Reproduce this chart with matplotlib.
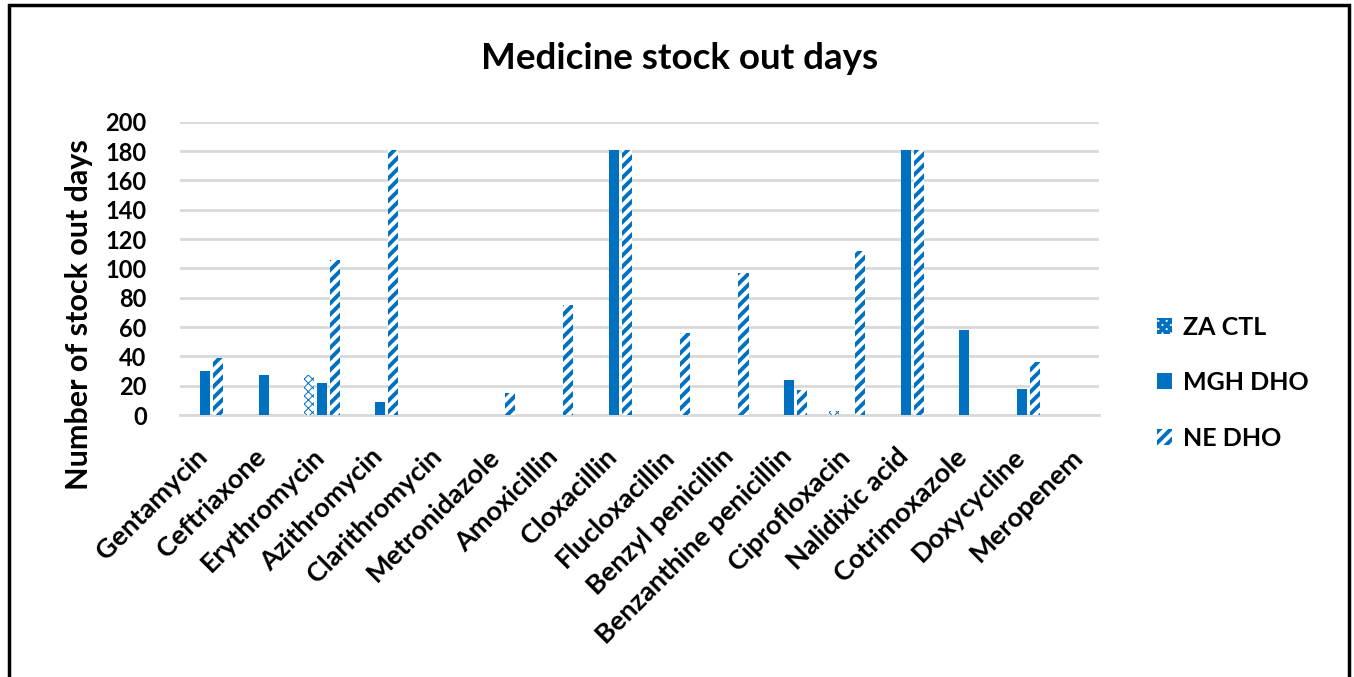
import matplotlib
matplotlib.use("Agg")
import matplotlib.pyplot as plt
import matplotlib.transforms as mtransforms
import numpy as np
from matplotlib.patches import Rectangle

# Data
medicines = ["Gentamycin", "Ceftriaxone", "Erythromycin", "Azithromycin",
             "Clarithromycin", "Metronidazole", "Amoxicillin", "Cloxacillin",
             "Flucloxacillin", "Benzyl penicillin", "Benzanthine penicillin",
             "Ciprofloxacin", "Nalidixic acid", "Cotrimoxazole", "Doxycycline",
             "Meropenem"]
za_ctl  = [0, 0, 27, 0, 0, 0, 0, 0, 0, 0, 0, 3, 0, 0, 0, 0]
mgh_dho = [30, 27, 22, 9, 0, 0, 0, 181, 0, 0, 24, 0, 181, 58, 18, 0]
ne_dho  = [39, 0, 106, 181, 0, 15, 75, 181, 56, 97, 17, 112, 181, 0, 36, 0]
series_names = ["ZA CTL", "MGH DHO", "NE DHO"]
y_ticks = list(range(0, 201, 20))

BLUE = "#0070C0"
FONT = "Lato"

fig = plt.figure(figsize=(13.54, 6.77), dpi=100)
ax = fig.add_axes([0.133, 0.387, 0.679, 0.433])

x = np.arange(len(medicines))
w = 0.172
pitch = 0.222

plt.rcParams["hatch.linewidth"] = 0.7
b1 = ax.bar(x - pitch, za_ctl, w, facecolor="white", edgecolor=BLUE,
            hatch="xxxx", linewidth=0, zorder=3)
plt.rcParams["hatch.linewidth"] = 0.01
b2 = ax.bar(x, mgh_dho, w, facecolor=BLUE, edgecolor=BLUE, linewidth=0,
            zorder=3)
plt.rcParams["hatch.linewidth"] = 2.8
b3 = ax.bar(x + pitch, ne_dho, w, facecolor="white", edgecolor=BLUE,
            hatch="///", linewidth=0, zorder=3)

ax.set_xlim(-0.43, len(medicines) - 0.68)
ax.set_ylim(0, 200)
ax.set_yticks(y_ticks)
ax.set_yticklabels([str(t) for t in y_ticks], fontfamily=FONT,
                   fontweight="bold", fontsize=17)
ax.yaxis.grid(True, color="#D9D9D9", linewidth=2, zorder=0)
ax.set_axisbelow(True)
for s in ["top", "right", "left"]:
    ax.spines[s].set_visible(False)
ax.spines["bottom"].set_color("#D9D9D9")
ax.spines["bottom"].set_linewidth(2)
ax.tick_params(axis="both", length=0)
ax.tick_params(axis="y", pad=24)

ax.set_xticks(x)
ax.set_xticklabels(medicines, rotation=45, ha="right", rotation_mode="anchor",
                   fontfamily=FONT, fontweight="bold", fontsize=19.5)
ax.tick_params(axis="x", pad=21)
# nudge the rotated category names slightly left
shift = mtransforms.ScaledTranslation(-10 / 100, 0, fig.dpi_scale_trans)
for lbl in ax.get_xticklabels():
    lbl.set_transform(lbl.get_transform() + shift)

fig.text(0.058, 0.535, "Number of stock out days", rotation=90,
         ha="center", va="center", fontfamily=FONT, fontweight="bold",
         fontsize=22)

fig.text(0.502, 0.914, "Medicine stock out days", ha="center", va="center",
         fontfamily=FONT, fontweight="bold", fontsize=26.5)

handles = [b1.patches[0], b2.patches[0], b3.patches[0]]
leg = fig.legend(handles, series_names, loc="center left",
                 bbox_to_anchor=(0.838, 0.435), frameon=False,
                 prop={"family": FONT, "weight": "bold", "size": 18},
                 handlelength=0.6, handleheight=0.6, handletextpad=0.45,
                 labelspacing=1.3)

# Outer frame
fig.add_artist(Rectangle((0.0067, -0.05), 0.9896, 1.043, transform=fig.transFigure,
                         fill=False, edgecolor="black", linewidth=2.5))

fig.savefig("out.png", dpi=100)
